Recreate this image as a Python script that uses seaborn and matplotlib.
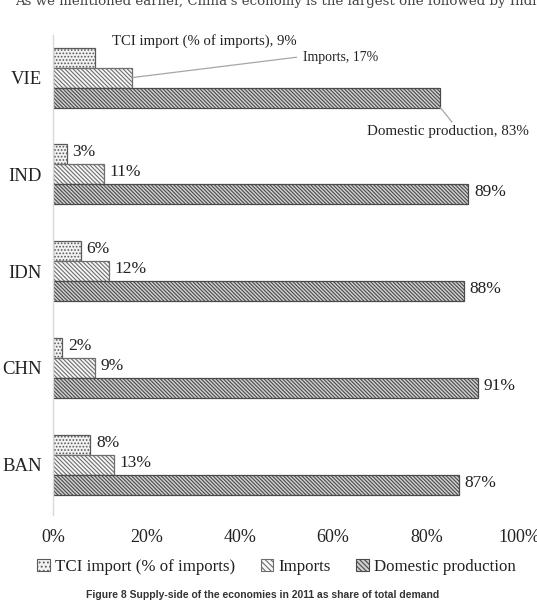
import pandas as pd
import matplotlib
matplotlib.use('Agg')
import matplotlib.pyplot as plt
from matplotlib.patches import Patch
import seaborn as sns

# datos
paises = ['VIE', 'IND', 'IDN', 'CHN', 'BAN']
series = ['TCI import (% of imports)', 'Imports', 'Domestic production']
tci = [9, 3, 6, 2, 8]
imports = [17, 11, 12, 9, 13]
domestic = [83, 89, 88, 91, 87]

df = pd.DataFrame({
    'pais': paises * 3,
    'serie': [series[0]] * 5 + [series[1]] * 5 + [series[2]] * 5,
    'valor': tci + imports + domestic,
})

sns.set_style('white')
plt.rcParams['font.family'] = ['Liberation Serif', 'DejaVu Serif']
plt.rcParams['hatch.linewidth'] = 0.8

fig = plt.figure(figsize=(5.37, 6.03), dpi=100)
ax = fig.add_axes([0.0987, 0.146, 0.869, 0.796])

rellenos = ['#f2f2f2', '#f7f7f7', '#d0d0d0']
tramas = ['.....', '\\' * 8, '\\' * 9]
bordes = ['#5a5a5a', '#6e6e6e', '#4a4a4a']

sns.barplot(data=df, x='valor', y='pais', hue='serie', order=paises,
            hue_order=series, palette=rellenos, width=0.62, ax=ax,
            orient='h', saturation=1)

for cont, trama, borde in zip(ax.containers, tramas, bordes):
    for barra in cont:
        barra.set_hatch(trama)
        barra.set_edgecolor(borde)
        barra.set_linewidth(0.9)

# etiquetas de datos (VIE va con líneas guía)
for k, cont in enumerate(ax.containers):
    for i, barra in enumerate(cont):
        if i == 0:
            continue
        w = barra.get_width()
        yc = barra.get_y() + barra.get_height() / 2
        ax.text(w + 1.2, yc - 0.02, f'{w:.0f}%', ha='left', va='center',
                fontsize=12.5, color='#222222')

# VIE
b_tci = ax.containers[0][0]
b_imp = ax.containers[1][0]
b_dom = ax.containers[2][0]
ax.text(12.7, b_tci.get_y() - 0.07, f'TCI import (% of imports), {tci[0]}%',
        ha='left', va='center', fontsize=10.6, color='#222222')
y_imp = b_imp.get_y() + b_imp.get_height() / 2
ax.plot([imports[0], 52.2], [y_imp, y_imp - 0.21], color='#a6a6a6', lw=0.9)
ax.text(53.5, y_imp - 0.21, f'Imports, {imports[0]}%', ha='left',
        va='center', fontsize=10, color='#222222')
y_dom = b_dom.get_y() + b_dom.get_height()
ax.plot([domestic[0], 85.5], [y_dom, y_dom + 0.15], color='#a6a6a6', lw=0.9)
ax.text(67.3, y_dom + 0.25, f'Domestic production, {domestic[0]}%',
        ha='left', va='center', fontsize=10.8, color='#222222')

ax.set_xlim(0, 100)
ax.set_ylim(4.52, -0.44)
ax.set_xticks([0, 20, 40, 60, 80, 100])
ax.set_xticklabels(['0%', '20%', '40%', '60%', '80%', '100%'])
ax.tick_params(axis='x', length=0, labelsize=13, pad=10, colors='#222222')
ax.tick_params(axis='y', length=0, labelsize=13.5, pad=8, colors='#222222')
ax.set_xlabel('')
ax.set_ylabel('')
for lado in ['top', 'right', 'bottom']:
    ax.spines[lado].set_visible(False)
ax.spines['left'].set_color('#d9d9d9')
ax.spines['left'].set_linewidth(1)

ax.get_legend().remove()
h = [Patch(facecolor=c, hatch=t, edgecolor=b, linewidth=0.8)
     for c, t, b in zip(rellenos, ['....', '\\' * 6, '\\' * 7], bordes)]
fig.legend(h, series, loc='center', bbox_to_anchor=(0.515, 1 - 567 / 603),
           ncol=3, frameon=False, fontsize=12.2, handlelength=0.75,
           handleheight=0.75, handletextpad=0.3, columnspacing=1.5,
           labelcolor='#222222')

# texto del documento y pie de figura
fig.text(15 / 537, 1 - 5 / 603,
         "As we mentioned earlier, China's economy is the largest one followed by India",
         ha='left', va='baseline', fontsize=9.6, color='#444444',
         family=['DejaVu Serif'])
fig.text(263 / 537, 1 - 595 / 603,
         'Figure 8 Supply-side of the economies in 2011 as share of total demand',
         ha='center', va='center', fontsize=7.5, fontweight='bold',
         color='#333333', family=['Liberation Sans', 'DejaVu Sans'])

fig.savefig('out.png', dpi=100)
